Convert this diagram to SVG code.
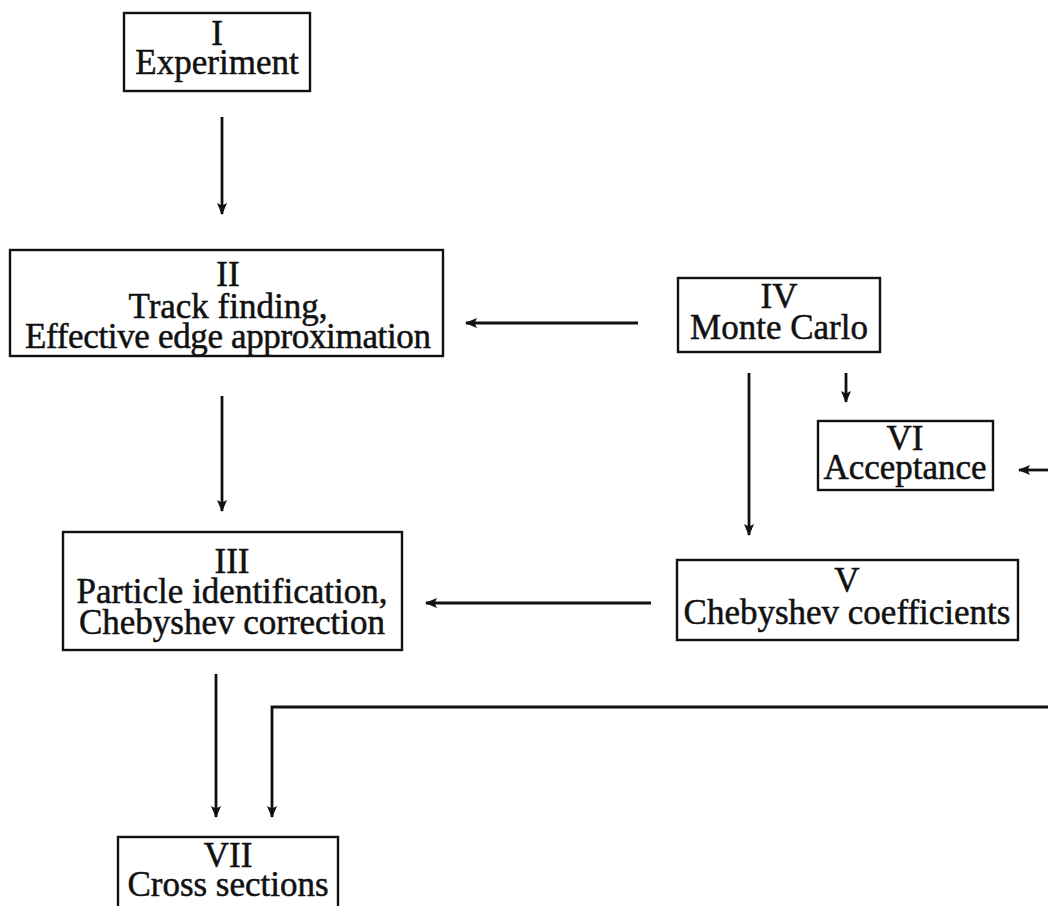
<svg xmlns="http://www.w3.org/2000/svg" width="1048" height="906" viewBox="0 0 1048 906">
<style>
  .box { fill: #ffffff; stroke: #111111; stroke-width: 2.4; }
  .lbl { font-family: "Liberation Serif", "Times New Roman", serif; font-size: 35px; fill: #111111; stroke: #111111; stroke-width: 0.5; text-anchor: middle; }
  .con { fill: none; stroke: #111111; stroke-width: 2.8; }
</style>
<defs>
  <marker id="ah" viewBox="0 0 12 10" refX="11" refY="5" markerWidth="12" markerHeight="10" markerUnits="userSpaceOnUse" orient="auto">
    <path d="M0,0 L12,5 L0,10 L2.5,5 Z" fill="#111111"/>
  </marker>
</defs>
<rect width="1048" height="906" fill="#ffffff"/>

<g id="connectors">
  <line class="con" x1="222" y1="117" x2="222" y2="214" marker-end="url(#ah)"/>
  <line class="con" x1="638" y1="323" x2="466" y2="323" marker-end="url(#ah)"/>
  <line class="con" x1="222" y1="396" x2="222" y2="511" marker-end="url(#ah)"/>
  <line class="con" x1="749" y1="373" x2="749" y2="535" marker-end="url(#ah)"/>
  <line class="con" x1="846" y1="373" x2="846" y2="402" marker-end="url(#ah)"/>
  <line class="con" x1="1048" y1="470" x2="1019" y2="470" marker-end="url(#ah)"/>
  <line class="con" x1="651" y1="603" x2="426" y2="603" marker-end="url(#ah)"/>
  <line class="con" x1="216" y1="674" x2="216" y2="817" marker-end="url(#ah)"/>
  <polyline class="con" points="1048,707 272,707 272,817" marker-end="url(#ah)"/>
</g>

<g id="node-I">
  <rect class="box" x="124" y="13" width="186" height="78"/>
  <text class="lbl" x="217" y="45">I</text>
  <text class="lbl" x="217" y="74">Experiment</text>
</g>

<g id="node-II">
  <rect class="box" x="10" y="250" width="433" height="106"/>
  <text class="lbl" x="228" y="286">II</text>
  <text class="lbl" x="228" y="318">Track finding,</text>
  <text class="lbl" x="228" y="348" textLength="406">Effective edge approximation</text>
</g>

<g id="node-III">
  <rect class="box" x="63" y="532" width="339" height="118"/>
  <text class="lbl" x="232" y="573">III</text>
  <text class="lbl" x="232" y="603">Particle identification,</text>
  <text class="lbl" x="232" y="634">Chebyshev correction</text>
</g>

<g id="node-IV">
  <rect class="box" x="678" y="278" width="202" height="74"/>
  <text class="lbl" x="779" y="308">IV</text>
  <text class="lbl" x="779" y="339">Monte Carlo</text>
</g>

<g id="node-V">
  <rect class="box" x="677" y="560" width="341" height="80"/>
  <text class="lbl" x="847" y="592">V</text>
  <text class="lbl" x="847" y="624">Chebyshev coefficients</text>
</g>

<g id="node-VI">
  <rect class="box" x="818" y="421" width="175" height="69"/>
  <text class="lbl" x="905" y="450">VI</text>
  <text class="lbl" x="905" y="479">Acceptance</text>
</g>

<g id="node-VII">
  <rect class="box" x="118" y="837" width="220" height="90"/>
  <text class="lbl" x="228" y="867">VII</text>
  <text class="lbl" x="228" y="896">Cross sections</text>
</g>
</svg>
